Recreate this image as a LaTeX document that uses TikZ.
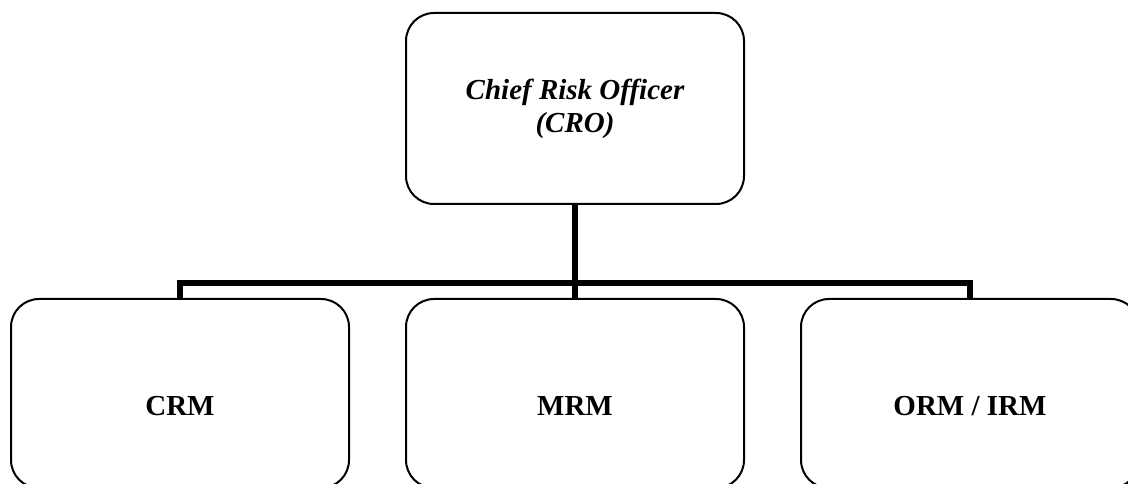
\documentclass[tikz,border=0pt]{standalone}
\usepackage{fontspec}
\setmainfont{Liberation Serif}
\usepackage{tikz}
\usetikzlibrary{positioning,calc,trees}

\tikzset{
  rolebox/.style={rectangle, rounded corners=21pt, draw, line width=1.5pt,
    minimum width=253.5pt, align=center,
    font=\fontsize{21.75pt}{24.75pt}\selectfont},
  headbox/.style={rolebox, minimum height=143.25pt,
    font=\fontsize{21.75pt}{24.75pt}\selectfont\bfseries\itshape},
  unitbox/.style={rolebox, minimum height=141.75pt,
    text height=33.75pt, text depth=0pt,
    font=\fontsize{21.75pt}{24.75pt}\selectfont\bfseries}
}

\begin{document}
\begin{tikzpicture}[x=0.75pt, y=-0.75pt,
    level distance=213.75pt, sibling distance=296.25pt,
    edge from parent/.style={draw, line width=4.5pt},
    edge from parent path={(\tikzparentnode.south) |- ([yshift=11.25pt]\tikzchildnode.north) -- (\tikzchildnode.north)}]
    \useasboundingbox (0,0) rectangle (1128,484);
    \clip (0,0) rectangle (1128,484);

    % CRO and the three risk units
    \node[headbox] (cro) at (575,108.5) {Chief Risk Officer\\(CRO)}
        child {node[unitbox] (crm) {CRM}}
        child {node[unitbox] (mrm) {MRM}}
        child {node[unitbox] (orm) {ORM / IRM}};
\end{tikzpicture}
\end{document}
